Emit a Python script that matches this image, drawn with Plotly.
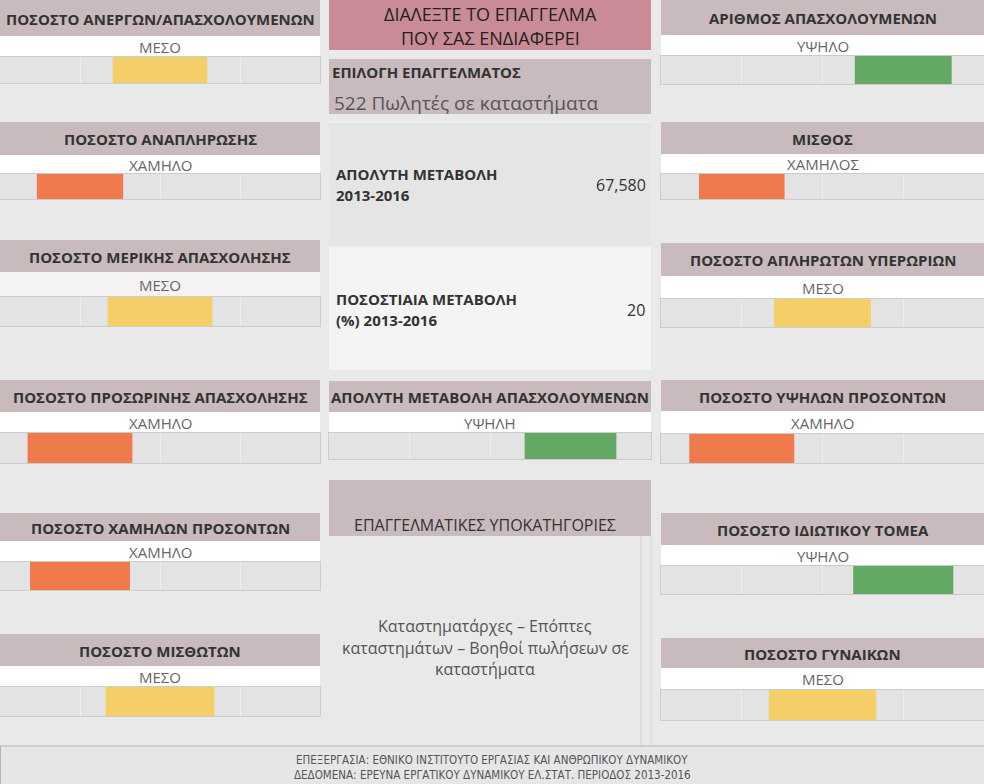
import plotly.graph_objects as go

# ---------------- data ----------------
panel_titles = [
    "ΠΟΣΟΣΤΟ ΑΝΕΡΓΩΝ/ΑΠΑΣΧΟΛΟΥΜΕΝΩΝ",
    "ΠΟΣΟΣΤΟ ΑΝΑΠΛΗΡΩΣΗΣ",
    "ΠΟΣΟΣΤΟ ΜΕΡΙΚΗΣ ΑΠΑΣΧΟΛΗΣΗΣ",
    "ΠΟΣΟΣΤΟ ΠΡΟΣΩΡΙΝΗΣ ΑΠΑΣΧΟΛΗΣΗΣ",
    "ΠΟΣΟΣΤΟ ΧΑΜΗΛΩΝ ΠΡΟΣΟΝΤΩΝ",
    "ΠΟΣΟΣΤΟ ΜΙΣΘΩΤΩΝ",
    "ΑΡΙΘΜΟΣ ΑΠΑΣΧΟΛΟΥΜΕΝΩΝ",
    "ΜΙΣΘΟΣ",
    "ΠΟΣΟΣΤΟ ΑΠΛΗΡΩΤΩΝ ΥΠΕΡΩΡΙΩΝ",
    "ΠΟΣΟΣΤΟ ΥΨΗΛΩΝ ΠΡΟΣΟΝΤΩΝ",
    "ΠΟΣΟΣΤΟ ΙΔΙΩΤΙΚΟΥ ΤΟΜΕΑ",
    "ΠΟΣΟΣΤΟ ΓΥΝΑΙΚΩΝ",
    "ΑΠΟΛΥΤΗ ΜΕΤΑΒΟΛΗ ΑΠΑΣΧΟΛΟΥΜΕΝΩΝ",
]
level_labels = ["ΜΕΣΟ", "ΧΑΜΗΛΟ", "ΜΕΣΟ", "ΧΑΜΗΛΟ", "ΧΑΜΗΛΟ", "ΜΕΣΟ",
                "ΥΨΗΛΟ", "ΧΑΜΗΛΟΣ", "ΜΕΣΟ", "ΧΑΜΗΛΟ", "ΥΨΗΛΟ", "ΜΕΣΟ", "ΥΨΗΛΗ"]
level_values = [2, 1, 2, 1, 1, 2, 3, 1, 2, 1, 3, 2, 3]
bar_widths = [1.18, 1.08, 1.31, 1.31, 1.25, 1.36, 1.20, 1.06, 1.20, 1.30, 1.24, 1.33, 1.14]
level_colors = {1: "#ef7a4c", 2: "#f4cf68", 3: "#64a963"}

occupation = "522 Πωλητές σε καταστήματα"
abs_change = 67580
pct_change = 20
subcategories = ["Καταστηματάρχες – Επόπτες",
                 "καταστημάτων – Βοηθοί πωλήσεων σε",
                 "καταστήματα"]

# ---------------- layout geometry (pixels) ----------------
W, H = 984, 784
# x0, x1, header_top, label_top, bar_top, bar_bottom
geom = [
    (0, 320, 0, 36, 57, 83),
    (0, 320, 122, 155, 174, 199),
    (0, 320, 240, 272, 297, 326),
    (0, 320, 380, 412, 433, 463),
    (0, 320, 513, 541, 562, 590),
    (0, 320, 634, 666, 687, 716),
    (661, 984, 0, 35, 56, 84),
    (661, 984, 122, 154, 174, 199),
    (661, 984, 243, 276, 299, 327),
    (661, 984, 380, 411, 434, 463),
    (661, 984, 513, 545, 566, 594),
    (661, 984, 638, 668, 690, 720),
    (329, 651, 381, 412, 433, 459),
]
label_bg = ["#ffffff", "#ffffff", "#f4f2f2"] + ["#ffffff"] * 10

PAGE = "#e9e9e9"
MAUVE = "#c9babe"
PINK = "#c98b95"
FONT = "Open Sans, DejaVu Sans, sans-serif"


def px(x):
    return x / W


def py(y):
    return 1 - y / H


shapes = []
annotations = []


def rect(x0, y0, x1, y1, fill, line=None, lw=0):
    shapes.append(dict(type="rect", xref="paper", yref="paper",
                       x0=px(x0), x1=px(x1), y0=py(y1), y1=py(y0),
                       fillcolor=fill, line=dict(width=lw, color=line or fill),
                       layer="below"))


def hline(x0, x1, y, color, lw=1):
    shapes.append(dict(type="line", xref="paper", yref="paper",
                       x0=px(x0), x1=px(x1), y0=py(y), y1=py(y),
                       line=dict(width=lw, color=color), layer="above"))


def vline(x, y0, y1, color, lw=1):
    shapes.append(dict(type="line", xref="paper", yref="paper",
                       x0=px(x), x1=px(x), y0=py(y0), y1=py(y1),
                       line=dict(width=lw, color=color), layer="above"))


def text(t, x, y, size=14, color="#333333", bold=False, anchor="center", family=FONT):
    annotations.append(dict(text=t, x=px(x), y=py(y), xref="paper", yref="paper",
                            xanchor=anchor, yanchor="middle", showarrow=False,
                            font=dict(size=size, color=color, family=family,
                                      weight="bold" if bold else "normal")))


fig = go.Figure()
layout_axes = {}

for i, (title, lab, lvl, w, g) in enumerate(zip(panel_titles, level_labels,
                                                  level_values, bar_widths, geom)):
    x0, x1, ht, lt, bt, bb = g
    rect(x0, ht, x1, lt, MAUVE)
    rect(x0, lt, x1, bt, label_bg[i])
    text(title, (x0 + x1) / 2, (ht + lt) / 2 + 1, size=15, color="#333333", bold=True)
    text(lab, (x0 + x1) / 2, (lt + bt) / 2, size=15, color="#666666")

    k = "" if i == 0 else str(i + 1)
    fig.add_trace(go.Bar(
        x=[w], base=[lvl - w / 2], y=[0], orientation="h", width=1,
        marker=dict(color=level_colors[lvl], line=dict(width=0)),
        xaxis="x" + k, yaxis="y" + k, showlegend=False, hoverinfo="skip"))
    layout_axes["xaxis" + k] = dict(
        domain=[px(x0), px(x1)], range=[0, 4], tickvals=[1, 2, 3],
        showgrid=True, gridcolor="#eeeeee", gridwidth=1,
        showticklabels=False, ticks="", zeroline=False,
        showline=True, mirror=True, linecolor="#cccccc", linewidth=1,
        anchor="y" + k, fixedrange=True)
    layout_axes["yaxis" + k] = dict(
        domain=[py(bb), py(bt)], range=[-0.5, 0.5],
        showgrid=False, showticklabels=False, ticks="", zeroline=False,
        showline=True, mirror=True, linecolor="#cccccc", linewidth=1,
        anchor="x" + k, fixedrange=True)

# ---------------- middle column ----------------
rect(329, 0, 651, 50, PINK)
text("ΔΙΑΛΕΞΤΕ ΤΟ ΕΠΑΓΓΕΛΜΑ", 490, 14, size=18, color="#222222")
text("ΠΟΥ ΣΑΣ ΕΝΔΙΑΦΕΡΕΙ", 490, 38, size=18, color="#222222")

rect(329, 59, 651, 114, MAUVE)
text("ΕΠΙΛΟΓΗ ΕΠΑΓΓΕΛΜΑΤΟΣ", 330, 72, size=15, color="#333333", bold=True, anchor="left")
text(occupation, 332, 103, size=19, color="#555555", anchor="left")

rect(329, 122, 651, 245, "#e5e5e5")
hline(329, 651, 122, "#f4f4f4")
text("ΑΠΟΛΥΤΗ ΜΕΤΑΒΟΛΗ", 334, 174, size=15, color="#333333", bold=True, anchor="left")
text("2013-2016", 334, 195, size=15, color="#333333", bold=True, anchor="left")
text(f"{abs_change:,}", 648, 185, size=16, color="#333333", anchor="right")

rect(329, 247, 651, 370, "#f4f4f4")
text("ΠΟΣΟΣΤΙΑΙΑ ΜΕΤΑΒΟΛΗ", 334, 299, size=15, color="#333333", bold=True, anchor="left")
text("(%) 2013-2016", 334, 320, size=15, color="#333333", bold=True, anchor="left")
text(f"{pct_change}", 647, 310, size=16, color="#333333", anchor="right")

rect(329, 480, 651, 536, MAUVE)
text("ΕΠΑΓΓΕΛΜΑΤΙΚΕΣ ΥΠΟΚΑΤΗΓΟΡΙΕΣ", 485, 525, size=16, color="#333333")
vline(641, 536, 746, "#d2d2d2")
vline(651, 536, 746, "#d2d2d2")
for j, line in enumerate(subcategories):
    text(line, 485, 626 + j * 21.5, size=16, color="#555555")

# ---------------- footer ----------------
rect(0, 746, 984, 784, "#e6e6e6")
hline(0, 984, 746, "#b5b5b5")
vline(0.5, 746, 784, "#b5b5b5")
FOOT = "Liberation Sans Narrow, DejaVu Sans Condensed, Roboto Condensed, Open Sans, sans-serif"
text("ΕΠΕΞΕΡΓΑΣΙΑ: ΕΘΝΙΚΟ ΙΝΣΤΙΤΟΥΤΟ ΕΡΓΑΣΙΑΣ ΚΑΙ ΑΝΘΡΩΠΙΚΟΥ ΔΥΝΑΜΙΚΟΥ",
     492, 760, size=11.5, color="#555555", family=FOOT)
text("ΔΕΔΟΜΕΝΑ: ΕΡΕΥΝΑ ΕΡΓΑΤΙΚΟΥ ΔΥΝΑΜΙΚΟΥ ΕΛ.ΣΤΑΤ. ΠΕΡΙΟΔΟΣ 2013-2016",
     492, 775, size=11.5, color="#555555", family=FOOT)

fig.update_layout(
    width=W, height=H, margin=dict(l=0, r=0, t=0, b=0),
    paper_bgcolor=PAGE, plot_bgcolor="#e3e3e3",
    shapes=shapes, annotations=annotations, barmode="overlay",
    font=dict(family=FONT), **layout_axes)

fig.write_html("out.html", config={"displayModeBar": False})
